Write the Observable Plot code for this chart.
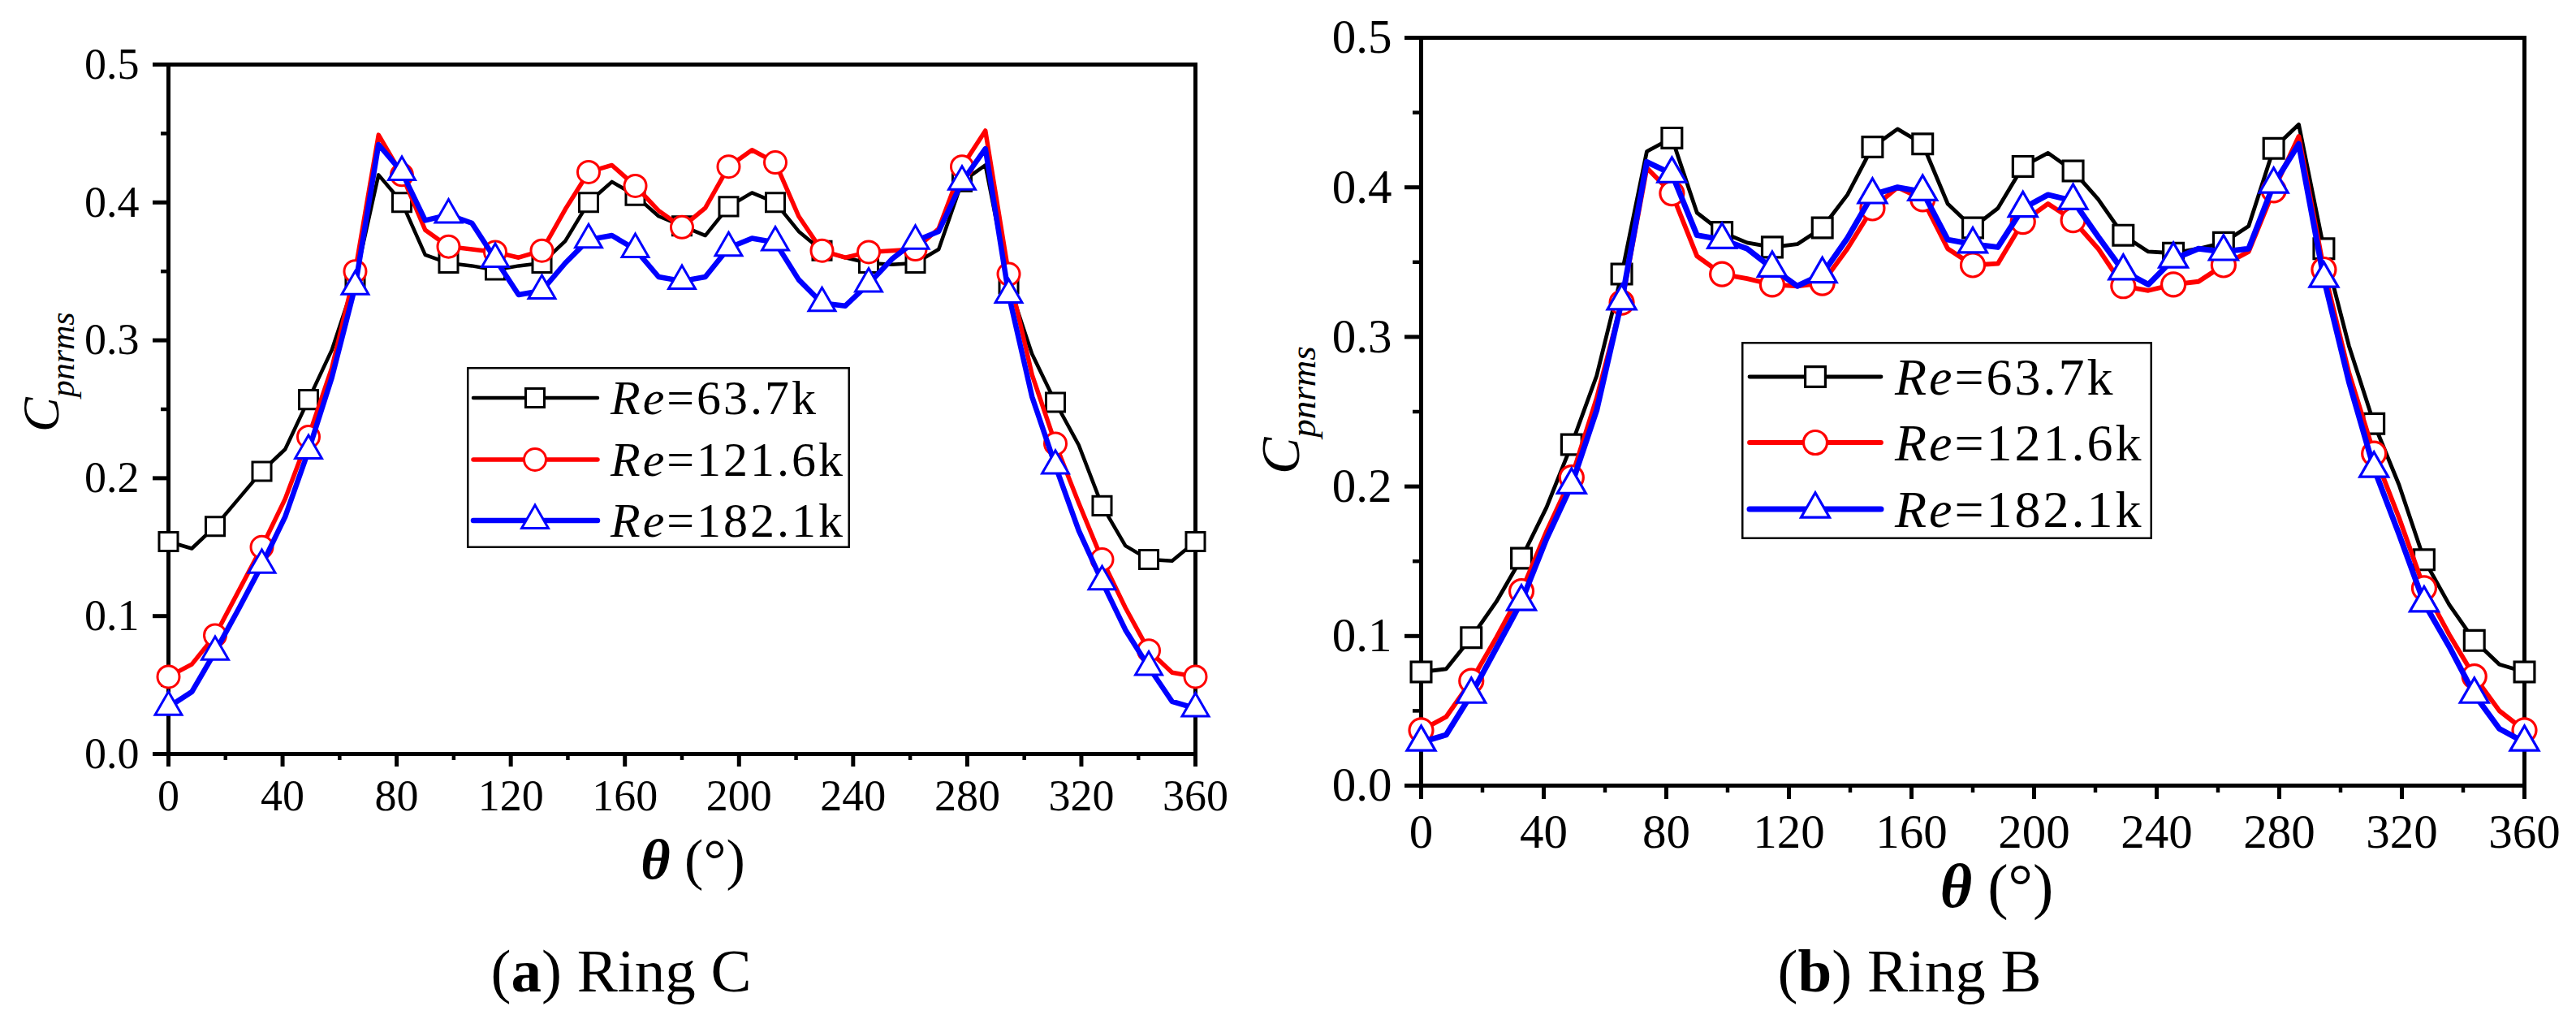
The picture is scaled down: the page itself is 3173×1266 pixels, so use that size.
<!DOCTYPE html>
<html>
<head>
<meta charset="utf-8">
<title>Cpnrms around Ring C and Ring B</title>
<script src="https://cdn.jsdelivr.net/npm/d3@7"></script>
<script src="https://cdn.jsdelivr.net/npm/@observablehq/plot@0.6"></script>
<style>
  body { margin: 0; background: #fff; }
  #fig { position: relative; width: 3173px; height: 1266px; overflow: hidden; background: #fff;
         font-family: "Liberation Serif", "Times New Roman", serif; color: #000; }
  .panel { position: absolute; top: 0; }
  .panel svg { overflow: visible; }
  .legend { position: absolute; overflow: visible; }
  .caption { position: absolute; font-size: 75px; line-height: 1; white-space: nowrap; transform: translateX(-50%); }
</style>
</head>
<body>
<div id="fig">
  <div class="panel" id="ringC"></div>
  <div class="panel" id="ringB"></div>
</div>
<script>
// pressure taps round the ring (deg); every second one carries a marker
const theta = [0, 8.18, 16.36, 24.55, 32.73, 40.91, 49.09, 57.27, 65.45, 73.64, 81.82, 90,
  98.18, 106.36, 114.55, 122.73, 130.91, 139.09, 147.27, 155.45, 163.64, 171.82, 180,
  188.18, 196.36, 204.55, 212.73, 220.91, 229.09, 237.27, 245.45, 253.64, 261.82, 270,
  278.18, 286.36, 294.55, 302.73, 310.91, 319.09, 327.27, 335.45, 343.64, 351.82, 360];

const reLabels = ["63.7k", "121.6k", "182.1k"];
const colors = ["#000000", "#ff0000", "#0000ff"];
const symbols = ["square", "circle", "triangle"];

const xMajor = [0, 40, 80, 120, 160, 200, 240, 280, 320, 360];
const xMinor = [20, 60, 100, 140, 180, 220, 260, 300, 340];
const yMajor = [0, 0.1, 0.2, 0.3, 0.4, 0.5];
const yMinor = [0.05, 0.15, 0.25, 0.35, 0.45];

// (a) Ring C
const ringC_637 = [0.154, 0.149, 0.165, 0.185, 0.205, 0.221, 0.257, 0.293, 0.344, 0.420, 0.400, 0.362,
  0.356, 0.354, 0.351, 0.354, 0.356, 0.372, 0.400, 0.415, 0.405, 0.390, 0.383, 0.376, 0.397, 0.407,
  0.400, 0.379, 0.365, 0.360, 0.356, 0.355, 0.356, 0.366, 0.415, 0.427, 0.341, 0.290, 0.255, 0.224,
  0.180, 0.151, 0.141, 0.140, 0.154];
const ringC_1216 = [0.056, 0.065, 0.086, 0.118, 0.150, 0.185, 0.230, 0.280, 0.350, 0.449, 0.420, 0.380,
  0.368, 0.366, 0.364, 0.360, 0.365, 0.395, 0.422, 0.427, 0.412, 0.394, 0.382, 0.396, 0.426, 0.438,
  0.429, 0.390, 0.365, 0.360, 0.364, 0.365, 0.366, 0.381, 0.426, 0.452, 0.348, 0.275, 0.225, 0.182,
  0.141, 0.106, 0.075, 0.059, 0.056];
const ringC_1821 = [0.034, 0.045, 0.074, 0.105, 0.137, 0.172, 0.220, 0.273, 0.339, 0.442, 0.422, 0.387,
  0.391, 0.385, 0.359, 0.333, 0.336, 0.356, 0.373, 0.376, 0.366, 0.346, 0.343, 0.346, 0.367, 0.374,
  0.371, 0.344, 0.327, 0.325, 0.341, 0.359, 0.372, 0.379, 0.415, 0.439, 0.333, 0.259, 0.209, 0.162,
  0.125, 0.090, 0.063, 0.038, 0.033];

// (b) Ring B
const ringB_637 = [0.076, 0.078, 0.099, 0.123, 0.152, 0.186, 0.228, 0.274, 0.342, 0.424, 0.433, 0.383,
  0.370, 0.363, 0.360, 0.362, 0.373, 0.395, 0.427, 0.439, 0.429, 0.389, 0.373, 0.386, 0.414, 0.423,
  0.411, 0.392, 0.368, 0.357, 0.356, 0.359, 0.363, 0.374, 0.426, 0.442, 0.359, 0.294, 0.242, 0.201,
  0.151, 0.121, 0.097, 0.081, 0.076];
const ringB_1216 = [0.037, 0.046, 0.070, 0.099, 0.130, 0.170, 0.206, 0.259, 0.323, 0.413, 0.396, 0.354,
  0.342, 0.339, 0.335, 0.334, 0.336, 0.359, 0.386, 0.400, 0.392, 0.359, 0.348, 0.349, 0.377, 0.389,
  0.378, 0.359, 0.334, 0.331, 0.335, 0.337, 0.348, 0.357, 0.398, 0.434, 0.345, 0.276, 0.222, 0.179,
  0.132, 0.101, 0.073, 0.050, 0.037];
const ringB_1821 = [0.029, 0.034, 0.061, 0.092, 0.123, 0.165, 0.201, 0.251, 0.324, 0.417, 0.409, 0.368,
  0.365, 0.359, 0.346, 0.334, 0.342, 0.366, 0.395, 0.400, 0.397, 0.365, 0.362, 0.360, 0.386, 0.395,
  0.391, 0.367, 0.344, 0.335, 0.352, 0.359, 0.357, 0.359, 0.402, 0.429, 0.339, 0.270, 0.212, 0.168,
  0.122, 0.093, 0.061, 0.038, 0.029];

const serif = '"Liberation Serif", "Times New Roman", serif';
const d3Symbols = {square: d3.symbolSquare, circle: d3.symbolCircle, triangle: d3.symbolTriangle};

// the right panel is printed a bit larger than the left one
const panels = [
  {id: "ringC", letter: "a", name: "Ring C", values: [ringC_637, ringC_1216, ringC_1821],
   left: 0, width: 1586, height: 1110, mt: 79, mr: 114, mb: 182, ml: 207,
   font: 54, xt: [16, 8, 15], yt: [19, 9, 17], lineW: [4.5, 5.5, 6.5], r: [13, 13.5, 12.2], markW: 3,
   ylab: {x: 72, y: 532, main: 64, sub: 42, dy: 19}, xlab: {dx: 14, y: 1082, size: 70},
   legend: {x: 575, y: 452, w: 472, h: 223, rows: [38, 114, 189], line: [8, 161], mark: 84, text: 177, size: 60},
   caption: {x: 765, y: 1158}},
  {id: "ringB", letter: "b", name: "Ring B", values: [ringB_637, ringB_1216, ringB_1821],
   left: 1586, width: 1587, height: 1140, mt: 46, mr: 64, mb: 173, ml: 164,
   font: 59, xt: [17, 9, 18], yt: [20, 10, 16], lineW: [4.8, 5.8, 7], r: [14, 14.5, 13], markW: 3.2,
   ylab: {x: 14, y: 584, main: 68, sub: 45, dy: 20}, xlab: {dx: 30, y: 1117, size: 76},
   legend: {x: 2145, y: 421, w: 506, h: 243, rows: [43, 124, 206], line: [10, 172], mark: 91, text: 189, size: 64},
   caption: {x: 2352, y: 1158}}
];

function drawPanel(p) {
  const marks = [
    Plot.frame({stroke: "black", strokeWidth: 5}),
    Plot.axisX({ticks: xMinor, tickSize: p.xt[1], strokeWidth: 4.5, tickFormat: () => "", label: null}),
    Plot.axisX({ticks: xMajor, tickSize: p.xt[0], tickPadding: p.xt[2], strokeWidth: 5,
                fontSize: p.font, tickFormat: d => String(d), label: null}),
    Plot.axisY({ticks: yMinor, tickSize: p.yt[1], strokeWidth: 4.5, tickFormat: () => "", label: null}),
    Plot.axisY({ticks: yMajor, tickSize: p.yt[0], tickPadding: p.yt[2], strokeWidth: 5,
                fontSize: p.font, tickFormat: d3.format(".1f"), label: null})
  ];

  p.values.forEach((vals, s) => {
    const rows = vals.map((v, k) => ({theta: theta[k], v, k}));
    marks.push(Plot.line(rows, {x: "theta", y: "v", stroke: colors[s], strokeWidth: p.lineW[s]}));
    marks.push(Plot.dot(rows.filter(d => d.k % 2 === 0), {
      x: "theta", y: "v", symbol: symbols[s], r: p.r[s],
      stroke: colors[s], strokeWidth: p.markW, fill: "white"
    }));
  });

  const chart = Plot.plot({
    width: p.width, height: p.height,
    marginTop: p.mt, marginRight: p.mr, marginBottom: p.mb, marginLeft: p.ml,
    style: {fontFamily: serif, fontSize: p.font + "px", color: "black", background: "white", overflow: "visible"},
    x: {domain: [0, 360]},
    y: {domain: [0, 0.5]},
    marks
  });

  const holder = document.getElementById(p.id);
  holder.style.left = p.left + "px";
  holder.appendChild(chart);

  const svg = d3.select(chart);
  const xs = chart.scale("x");

  // theta (deg)
  const xl = svg.append("text")
    .attr("x", xs.apply(180) + p.xlab.dx).attr("y", p.xlab.y)
    .attr("text-anchor", "middle").attr("font-size", p.xlab.size).attr("fill", "black");
  xl.append("tspan").attr("font-style", "italic").attr("font-weight", "bold").text("θ");
  xl.append("tspan").text(" (°)");

  // C_pnrms, read bottom to top
  const yl = svg.append("text")
    .attr("transform", `translate(${p.ylab.x},${p.ylab.y}) rotate(-90)`)
    .attr("text-anchor", "start").attr("font-style", "italic").attr("fill", "black");
  yl.append("tspan").attr("font-size", p.ylab.main).text("C");
  yl.append("tspan").attr("font-size", p.ylab.sub).attr("dy", p.ylab.dy).text("pnrms");

  // legend box
  const L = p.legend;
  const lg = d3.select("#fig").append("svg").attr("class", "legend")
    .style("left", L.x + "px").style("top", L.y + "px")
    .attr("width", L.w).attr("height", L.h);
  lg.append("rect").attr("x", 1.25).attr("y", 1.25).attr("width", L.w - 2.5).attr("height", L.h - 2.5)
    .attr("fill", "white").attr("stroke", "black").attr("stroke-width", 2.5);
  reLabels.forEach((lab, s) => {
    const g = lg.append("g").attr("transform", `translate(0,${L.rows[s]})`);
    g.append("line").attr("x1", L.line[0]).attr("x2", L.line[1])
      .attr("stroke", colors[s]).attr("stroke-width", p.lineW[s]).attr("stroke-linecap", "round");
    g.append("path").attr("transform", `translate(${L.mark},0)`)
      .attr("d", d3.symbol(d3Symbols[symbols[s]], Math.PI * p.r[s] * p.r[s])())
      .attr("fill", "white").attr("stroke", colors[s]).attr("stroke-width", p.markW);
    const t = g.append("text").attr("x", L.text).attr("dy", "0.34em")
      .attr("font-family", serif).attr("font-size", L.size).attr("letter-spacing", 3).attr("fill", "black");
    t.append("tspan").attr("font-style", "italic").text("Re");
    t.append("tspan").text("=" + lab);
  });

  // caption under the panel
  d3.select("#fig").append("div").attr("class", "caption")
    .style("left", p.caption.x + "px").style("top", p.caption.y + "px")
    .html(`(<b>${p.letter}</b>) ${p.name}`);
}

panels.forEach(drawPanel);
</script>
</body>
</html>
